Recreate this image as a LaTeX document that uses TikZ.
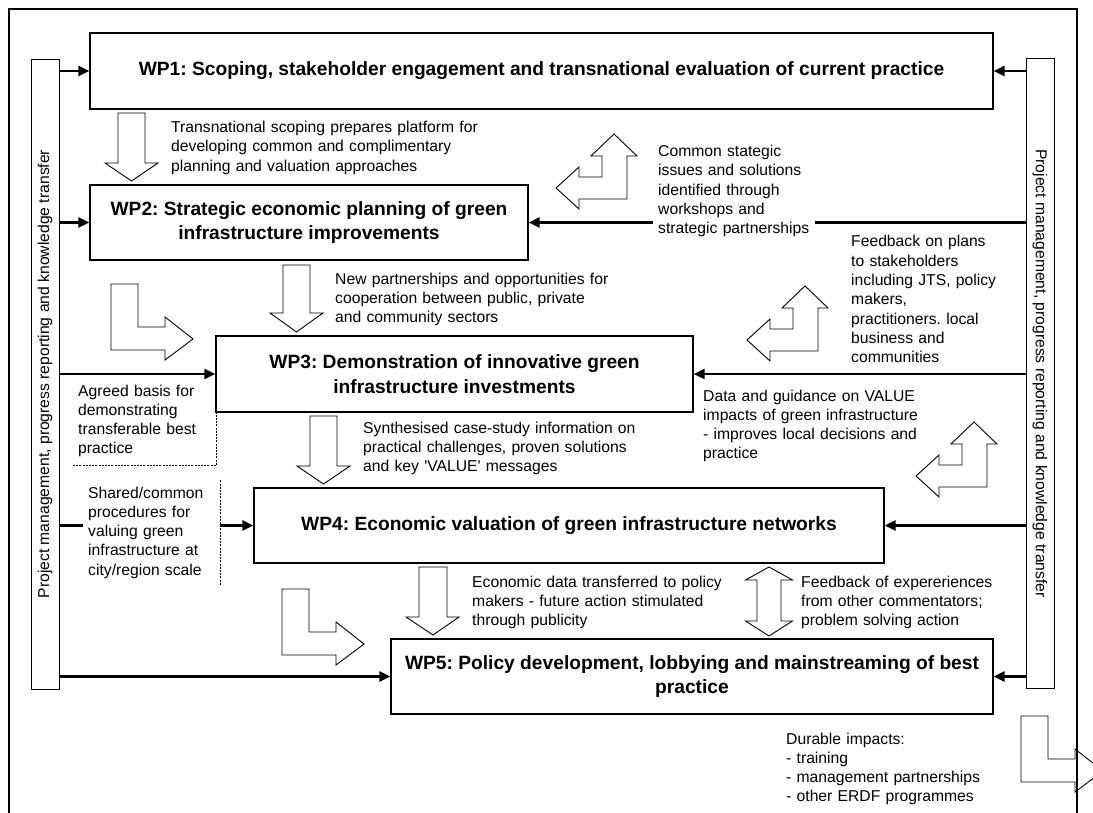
\documentclass[tikz,border=0pt]{standalone}
\usepackage{fontspec}
\setmainfont{Liberation Sans}
\usetikzlibrary{arrows.meta}
\frenchspacing

\begin{document}
\begin{tikzpicture}[x=1pt,y=-1pt,
  wp/.style={draw, line width=1.3pt, fill=white, inner sep=0pt, align=center,
    font=\fontsize{19.2}{24.5}\selectfont\bfseries},
  side/.style={draw, line width=0.9pt, fill=white, minimum width=28pt,
    minimum height=630pt, inner sep=0pt},
  sidetxt/.style={font=\fontsize{15.7}{17}\selectfont, inner sep=0pt},
  note/.style={font=\fontsize{15.7}{19.3}\selectfont, anchor=base west,
    inner ysep=0pt, inner xsep=5pt, align=left},
  link/.style={line width=2.2pt, -{Triangle[length=11pt,width=10pt]}},
  blk/.style={draw, line width=0.9pt, fill=white, line join=miter},
  dots/.style={line width=0.6pt, dash pattern=on 2pt off 1.2pt},
  elbowul/.pic={\path[blk] (0,0) -- (23,22) -- (13,22) -- (13,65) -- (-35,65)
    -- (-35,75) -- (-58,54) -- (-35,33) -- (-35,43) -- (-12,43) -- (-12,22)
    -- (-23,22) -- cycle;},
  elbowr/.pic={\path[blk] (0,0) -- (27,0) -- (27,43) -- (54,43) -- (54,33)
    -- (82,55) -- (54,76) -- (54,66) -- (0,66) -- cycle;},
]
\path[use as bounding box, clip] (0,0) rectangle (1093,813);
\fill[white] (0,0) rectangle (1093,813);

% exit arrow leaving the frame, then the frame itself
\pic at (1021,716) {elbowr};
\draw[line width=2.4pt] (9,813) -- (9,9) -- (1077,9) -- (1077,813);

% management bars on both sides
\node[side] (lb) at (45,374) {};
\node[side] (rb) at (1040,373.5) {};
\node[sidetxt, rotate=90] (lbt) at (lb.center)
  {Project management, progress reporting and knowledge transfer};
\node[sidetxt, rotate=-90] (rbt) at (rb.center)
  {Project management, progress reporting and knowledge transfer};

% work packages
\node[wp, minimum width=903pt, minimum height=76pt] (wp1) at (541.5,71)
  {WP1: Scoping, stakeholder engagement and transnational evaluation of current practice};
\node[wp, minimum width=438pt, minimum height=75pt] (wp2) at (309,222.5)
  {WP2: Strategic economic planning of green\\infrastructure improvements};
\node[wp, minimum width=477pt, minimum height=76pt] (wp3) at (454.5,374)
  {WP3: Demonstration of innovative green\\infrastructure investments};
\node[wp, minimum width=630pt, minimum height=75pt] (wp4) at (569,525.5)
  {WP4: Economic valuation of green infrastructure networks};
\node[wp, minimum width=602pt, minimum height=75pt] (wp5) at (692,676.5)
  {WP5: Policy development, lobbying and mainstreaming of best\\practice};

% links from the management bars
\foreach \w in {wp1,wp2,wp3,wp4,wp5}{
  \draw[link] (lb.east |- \w.west) -- (\w.west);
  \draw[link] (rb.west |- \w.east) -- (\w.east);
}

% annotations
\node[note, text width=330pt] (tn) at (166,132.5)
  {Transnational scoping prepares platform for\\developing common and complimentary\\planning and valuation approaches};
\node[note, text width=152pt, fill=white] (cs) at (653,156.5)
  {Common stategic\\issues and solutions\\identified through\\workshops and\\strategic partnerships};
\node[note, text width=170pt] (fp) at (846,247)
  {Feedback on plans\\to stakeholders\\including JTS, policy\\makers,\\practitioners. local\\business and\\communities};
\node[note, text width=320pt] (np) at (330,284)
  {New partnerships and opportunities for\\cooperation between public, private\\and community sectors};
\node[note, text width=133pt, inner ysep=8pt] (ag) at (73,396)
  {Agreed basis for\\demonstrating\\transferable best\\practice};
\draw[dots] (ag.north east) -- (ag.south east) -- (ag.south west);
\node[note, text width=320pt] (sy) at (358,433)
  {Synthesised case-study information on\\practical challenges, proven solutions\\and key \textquotesingle VALUE\textquotesingle{} messages};
\node[note, text width=230pt] (dg) at (698,401)
  {Data and guidance on VALUE\\impacts of green infrastructure\\- improves local decisions and\\practice};
\node[note, text width=127pt, inner ysep=6pt, fill=white] (sh) at (83,498)
  {Shared/common\\procedures for\\valuing green\\infrastructure at\\city/region scale};
\draw[dots] (sh.north east) -- (sh.south east);
\node[note, text width=280pt] (ed) at (467,587)
  {Economic data transferred to policy\\makers - future action stimulated\\through publicity};
\node[note, text width=220pt] (fe) at (796,587)
  {Feedback of expereriences\\from other commentators;\\problem solving action};
\node[note, text width=220pt] (di) at (781,744)
  {Durable impacts:\\- training\\- management partnerships\\- other ERDF programmes};

% block arrows between work packages
\path[blk] (118,113) -- (145,113) -- (145,163) -- (158,163) -- (131.5,181)
  -- (105,163) -- (118,163) -- cycle;
\path[blk] (283,265) -- (310,265) -- (310,313) -- (323,313) -- (296.5,332)
  -- (270,313) -- (283,313) -- cycle;
\path[blk] (310,416) -- (337,416) -- (337,466) -- (350,466) -- (323.5,484)
  -- (297,466) -- (310,466) -- cycle;
\path[blk] (419,567) -- (447,567) -- (447,617) -- (459,617) -- (433,635)
  -- (406,617) -- (419,617) -- cycle;
\path[blk] (769,567) -- (792.5,580) -- (781,580) -- (781,621) -- (792.5,621)
  -- (769,636) -- (745.5,621) -- (757,621) -- (757,580) -- (745.5,580) -- cycle;

% feedback loops
\pic at (614,134) {elbowul};
\pic at (805,286) {elbowul};
\pic at (974,422) {elbowul};
\pic at (111,284) {elbowr};
\pic at (282,589) {elbowr};
\end{tikzpicture}
\end{document}
